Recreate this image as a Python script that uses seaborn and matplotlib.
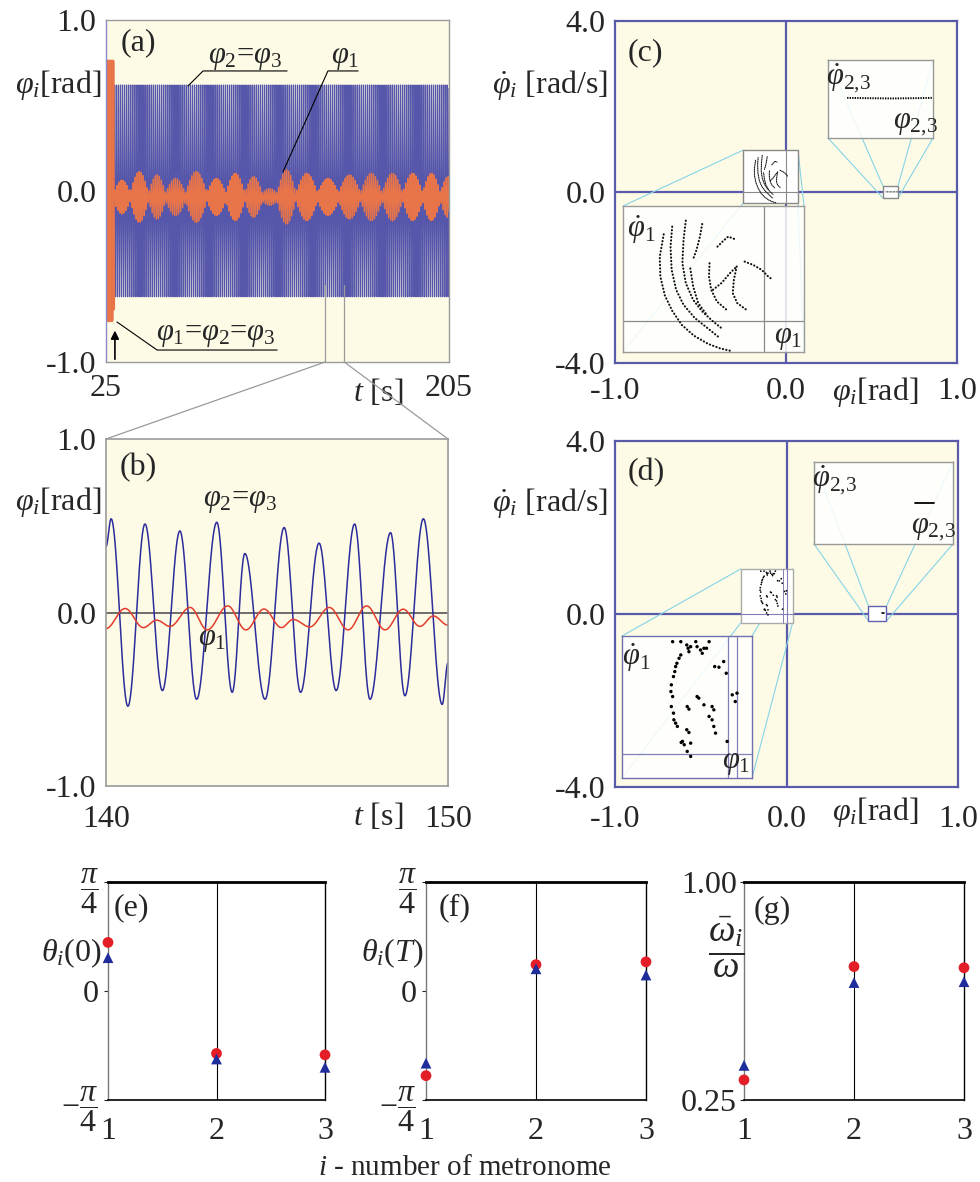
import numpy as np
import pandas as pd
import matplotlib
matplotlib.use("Agg")
import matplotlib.pyplot as plt
import seaborn as sns
from matplotlib.patches import Rectangle, ConnectionPatch

# ===================== DATA =====================
# (a) long record 25-205 s
a_t_start = 25.0
a_t_end = 205.0
a_sync_end = 29.0            # in-phase transient phi1=phi2=phi3
a_sync_amp = 0.76
a_phi23_amp = 0.62
a_phi23_period = 1.02
a_phi1_period = 1.06
a_phi1_offset = -0.035
a_lobe_t = [32.7, 42.8, 51.9, 60.7, 72.7, 83.1, 92.7, 103.2, 111.0, 118.5,
            130.7, 141.2, 153.0, 164.2, 175.6, 185.6, 196.6, 204.5]
a_lobe_amp = [0.10, 0.15, 0.13, 0.11, 0.15, 0.11, 0.14, 0.12, 0.05, 0.16,
              0.14, 0.11, 0.13, 0.14, 0.14, 0.14, 0.14, 0.12]
a_pinch_amp = 0.025
a_zoom_t = [140.0, 150.0]

# (b) 140-150 s: extrema of the curves
b_phi23_t = [140.00, 140.15, 140.64, 141.14, 141.65, 142.16, 142.65, 143.24, 143.69,
             144.06, 144.65, 145.21, 145.69, 146.23, 146.73, 147.27, 147.72, 148.32,
             148.74, 149.28, 149.83, 150.00]
b_phi23_v = [0.38, 0.54, -0.54, 0.51, -0.45, 0.47, -0.50, 0.52, -0.46, 0.34, -0.50,
             0.49, -0.46, 0.40, -0.45, 0.51, -0.50, 0.46, -0.48, 0.54, -0.53, -0.29]
b_phi1_t = [140.00, 140.56, 141.09, 141.48, 141.87, 142.46, 142.96, 143.56, 144.09,
            144.62, 145.13, 145.47, 145.96, 146.53, 147.08, 147.62, 148.16, 148.69,
            149.18, 149.57, 150.00]
b_phi1_v = [-0.092, 0.023, -0.087, -0.044, -0.080, 0.029, -0.100, 0.038, -0.100,
            0.020, -0.087, -0.040, -0.083, 0.029, -0.100, 0.038, -0.100, 0.019,
            -0.080, -0.020, -0.073]

# (c) Poincare points of metronome 1 (dotted strokes) and of 2,3
c_phi1_stroke = [1]*10 + [2]*8 + [3]*8 + [4]*4 + [5]*4 + [6]*4 + [7]*5 + [8]*4 + [9]*5 + [10]*5
c_phi1_x = [-0.178, -0.185, -0.184, -0.176, -0.163, -0.146, -0.125, -0.100, -0.078, -0.060,
            -0.163, -0.166, -0.164, -0.156, -0.143, -0.123, -0.097, -0.079,
            -0.139, -0.143, -0.145, -0.139, -0.126, -0.110, -0.091, -0.076,
            -0.110, -0.114, -0.120, -0.126,
            -0.131, -0.126, -0.117, -0.102,
            -0.083, -0.074, -0.064, -0.052,
            -0.097, -0.098, -0.094, -0.084, -0.067,
            -0.091, -0.076, -0.061, -0.049,
            -0.049, -0.054, -0.056, -0.048, -0.032,
            -0.035, -0.020, -0.005, 0.007, 0.013]
c_phi1_y = [0.74, 0.55, 0.38, 0.22, 0.09, -0.03, -0.12, -0.19, -0.23, -0.25,
            0.805, 0.635, 0.438, 0.268, 0.141, 0.028, -0.071, -0.141,
            0.856, 0.692, 0.494, 0.325, 0.183, 0.085, 0.000, -0.057,
            0.827, 0.720, 0.607, 0.530,
            0.450, 0.296, 0.155, 0.056,
            0.635, 0.678, 0.720, 0.698,
            0.494, 0.381, 0.268, 0.169, 0.099,
            0.268, 0.325, 0.409, 0.466,
            0.466, 0.353, 0.240, 0.155, 0.099,
            0.508, 0.480, 0.438, 0.380, 0.360]
c_phi23_x = [0.583, 0.600, 0.620, 0.640, 0.654]
c_phi23_y = [0.004, 0.003, 0.002, 0.003, 0.004]

# (d) Poincare points
d_phi1_x = [-0.150, -0.131, -0.117, -0.114, -0.112, -0.131, -0.135, -0.140, -0.143, -0.145,
            -0.148, -0.153, -0.154, -0.150, -0.153, -0.148, -0.147, -0.143, -0.139, -0.127,
            -0.123, -0.116, -0.108,
            -0.096, -0.093, -0.108, -0.085, -0.077, -0.065, -0.071, -0.081, -0.052, -0.042,
            -0.031,
            -0.093, -0.089, -0.116, -0.112, -0.058, -0.054, -0.077, -0.065, -0.058, -0.054,
            -0.050, -0.117, -0.112, -0.130, -0.108,
            -0.011, -0.004, 0.000, -0.025, -0.023]
d_phi1_y = [0.990, 0.990, 0.961, 0.932, 0.902, 0.873, 0.844, 0.800, 0.771, 0.727,
            0.683, 0.610, 0.551, 0.507, 0.419, 0.361, 0.302, 0.273, 0.244, 0.112,
            0.083, 0.024, -0.020,
            0.990, 0.946, 0.946, 0.917, 0.932, 0.990, 0.932, 0.888, 0.771, 0.765,
            0.815,
            0.507, 0.493, 0.419, 0.396, 0.419, 0.390, 0.434, 0.332, 0.302, 0.244,
            0.185, 0.215, 0.191, 0.103, 0.097,
            0.522, 0.463, 0.537, 0.712, 0.112]
d_phi1_line_x = -0.02
d_phi23_x = [0.554, 0.569]
d_phi23_y = [0.0125, 0.0125]

# (e)-(g)
metronome = [1, 2, 3]
e_theta0_red = [0.35, -0.45, -0.46]
e_theta0_blue = [0.24, -0.49, -0.55]
f_thetaT_red = [-0.61, 0.19, 0.21]
f_thetaT_blue = [-0.52, 0.16, 0.115]
g_omega_red = [0.319, 0.709, 0.705]
g_omega_blue = [0.369, 0.654, 0.657]

# ===================== STYLE =====================
sns.set_style("white")
plt.rcParams["font.family"] = ["Liberation Serif", "DejaVu Serif"]
plt.rcParams["mathtext.fontset"] = "custom"
plt.rcParams["mathtext.rm"] = "Liberation Serif"
plt.rcParams["mathtext.it"] = "Liberation Serif:italic"
plt.rcParams["mathtext.bf"] = "Liberation Serif:bold"
plt.rcParams["font.size"] = 23
plt.rcParams["axes.unicode_minus"] = False

BG = "#fdfbe6"
A_BLUE = "#5656aa"
A_ORANGE = "#e8744a"
B_BLUE = "#2c2c9c"
B_RED = "#e23c2c"
CD_BLUE = "#5a5aaa"
CYAN = "#86d3e6"
GREY = "#9a9a9a"
RED = "#e41e26"
NAVY = "#1f2d9c"
FS = 23

W, H, DPI = 980, 1182, 100
fig = plt.figure(figsize=(W / DPI, H / DPI), dpi=DPI)
fig.patch.set_facecolor("white")


def add_px_axes(x0, y0, x1, y1):
    return fig.add_axes([x0 / W, 1 - y1 / H, (x1 - x0) / W, (y1 - y0) / H])


def through_extrema(tk, vk, n=40):
    ts, vs = [], []
    for i in range(len(tk) - 1):
        s = np.linspace(0, 1, n, endpoint=False)
        ts.append(tk[i] + s * (tk[i + 1] - tk[i]))
        vs.append(vk[i] + (vk[i + 1] - vk[i]) * (1 - np.cos(np.pi * s)) / 2)
    ts.append([tk[-1]])
    vs.append([vk[-1]])
    return np.concatenate(ts), np.concatenate(vs)


def clear_labels(ax):
    ax.set_xlabel("")
    ax.set_ylabel("")


# ===================== (a) =====================
ax_a = add_px_axes(106, 20, 449, 362)
ax_a.set_facecolor(BG)
t = np.arange(a_t_start, a_t_end, 0.02)
centers = np.array(a_lobe_t)
amps = np.array(a_lobe_amp)
mids = (centers[:-1] + centers[1:]) / 2
pinches = np.concatenate([[a_sync_end], mids, [2 * centers[-1] - mids[-1]]])
env = np.full_like(t, a_pinch_amp)
for k in range(len(centers)):
    m = (t >= pinches[k]) & (t < pinches[k + 1])
    s = (t[m] - pinches[k]) / (pinches[k + 1] - pinches[k])
    env[m] = a_pinch_amp + (amps[k] - a_pinch_amp) * np.sin(np.pi * s)
sync = t < a_sync_end
phi23 = a_phi23_amp * np.cos(2 * np.pi * t / a_phi23_period)
phi1 = a_phi1_offset + env * np.cos(2 * np.pi * t / a_phi1_period)
phi_sync = a_sync_amp * np.cos(2 * np.pi * t / a_phi23_period)
sns.lineplot(x=t[~sync], y=phi23[~sync], ax=ax_a, color=A_BLUE, lw=0.8,
             estimator=None, sort=False, legend=False)
sns.lineplot(x=t[~sync], y=phi1[~sync], ax=ax_a, color=A_ORANGE, lw=0.9,
             estimator=None, sort=False, legend=False)
sns.lineplot(x=t[sync], y=phi_sync[sync], ax=ax_a, color=A_ORANGE, lw=2.2,
             estimator=None, sort=False, legend=False)
clear_labels(ax_a)
ax_a.set_xlim(a_t_start, a_t_end)
ax_a.set_ylim(-1, 1)
ax_a.set_xticks([25, 205])
ax_a.set_xticklabels(["25", "205"])
ax_a.set_yticks([-1, 0, 1])
ax_a.set_yticklabels(["-1.0", "0.0", "1.0"])
ax_a.set_yticks([-0.5, -0.25, 0.25, 0.5], minor=True)
ax_a.tick_params(axis="both", which="major", length=0, labelsize=FS)
ax_a.tick_params(axis="x", pad=9)
ax_a.tick_params(axis="y", pad=7)
ax_a.tick_params(axis="y", which="minor", length=3, direction="in", color="#8a8acc", left=True)
for sname, sp in ax_a.spines.items():
    sp.set_color("#8a8acc" if sname == "left" else GREY)
    sp.set_linewidth(1.0)
ax_a.text(0.093, 0.933, "(a)", transform=ax_a.transAxes, ha="center", va="center", fontsize=FS)
ax_a.text(-0.14, 0.81, r"$\varphi_i$[rad]", transform=ax_a.transAxes, ha="center", va="center", fontsize=FS)
ax_a.text(0.793, -0.088, r"$t$ [s]", transform=ax_a.transAxes, ha="center", va="center", fontsize=FS)
# annotations
ax_a.text(0.405, 0.89, r"$\varphi_2$=$\varphi_3$", transform=ax_a.transAxes, ha="center", va="center", fontsize=22)
ax_a.plot([0.239, 0.283, 0.528], [0.807, 0.851, 0.851], transform=ax_a.transAxes, color="k", lw=0.8)
ax_a.text(0.697, 0.89, r"$\varphi_1$", transform=ax_a.transAxes, ha="center", va="center", fontsize=22)
ax_a.plot([0.516, 0.647, 0.735], [0.556, 0.851, 0.851], transform=ax_a.transAxes, color="k", lw=0.8)
ax_a.text(0.321, 0.08, r"$\varphi_1$=$\varphi_2$=$\varphi_3$", transform=ax_a.transAxes, ha="center", va="center", fontsize=22)
ax_a.plot([0.032, 0.149, 0.499], [0.117, 0.035, 0.035], transform=ax_a.transAxes, color="k", lw=0.8)
ax_a.annotate("", xy=(0.026, 0.1), xytext=(0.026, 0.0), xycoords="axes fraction",
              arrowprops=dict(arrowstyle="-|>", color="k", lw=1.2, mutation_scale=12))
for tz in a_zoom_t:
    ax_a.plot([tz, tz], [-0.55, -1.0], color=GREY, lw=0.9)

# ===================== (b) =====================
ax_b = add_px_axes(106, 439, 448, 786)
ax_b.set_facecolor(BG)
ax_b.axhline(0, color="#555555", lw=1.2)
tb2, vb2 = through_extrema(b_phi23_t, b_phi23_v)
tb1, vb1 = through_extrema(b_phi1_t, b_phi1_v)
sns.lineplot(x=tb2, y=vb2, ax=ax_b, color=B_BLUE, lw=1.1, estimator=None, sort=False, legend=False)
sns.lineplot(x=tb1, y=vb1, ax=ax_b, color=B_RED, lw=1.1, estimator=None, sort=False, legend=False)
clear_labels(ax_b)
ax_b.set_xlim(140, 150)
ax_b.set_ylim(-1, 1)
ax_b.set_xticks([140, 150])
ax_b.set_xticklabels(["140", "150"])
ax_b.set_yticks([-1, 0, 1])
ax_b.set_yticklabels(["-1.0", "0.0", "1.0"])
ax_b.tick_params(length=0, labelsize=FS)
ax_b.tick_params(axis="x", pad=14)
ax_b.tick_params(axis="y", pad=7)
for sp in ax_b.spines.values():
    sp.set_color(GREY)
    sp.set_linewidth(1.2)
ax_b.text(0.094, 0.919, "(b)", transform=ax_b.transAxes, ha="center", va="center", fontsize=FS)
ax_b.text(-0.14, 0.818, r"$\varphi_i$[rad]", transform=ax_b.transAxes, ha="center", va="center", fontsize=FS)
ax_b.text(0.795, -0.089, r"$t$ [s]", transform=ax_b.transAxes, ha="center", va="center", fontsize=FS)
ax_b.text(0.392, 0.824, r"$\varphi_2$=$\varphi_3$", transform=ax_b.transAxes, ha="center", va="center", fontsize=22)
ax_b.text(0.31, 0.421, r"$\varphi_1$", transform=ax_b.transAxes, ha="center", va="center", fontsize=22)

# connectors (a) -> (b)
for tz, fx in zip(a_zoom_t, [0.0, 1.0]):
    con = ConnectionPatch(xyA=(tz, -1.0), coordsA=ax_a.transData, xyB=(fx, 1.0),
                          coordsB=ax_b.transAxes, color=GREY, lw=0.9)
    fig.add_artist(con)


# ===================== (c), (d) =====================
def style_phase(ax, tag, ylabel_fy, xlabel_fy, xpad):
    ax.set_facecolor(BG)
    ax.set_xlim(-1, 1)
    ax.set_ylim(-4, 4)
    ax.set_xticks([-1, 0, 1])
    ax.set_xticklabels(["-1.0", "0.0", "1.0"])
    ax.set_yticks([-4, 0, 4])
    ax.set_yticklabels(["-4.0", "0.0", "4.0"])
    ax.tick_params(length=0, labelsize=FS)
    ax.tick_params(axis="x", pad=xpad)
    ax.tick_params(axis="y", pad=7)
    for sp in ax.spines.values():
        sp.set_color(CD_BLUE)
        sp.set_linewidth(1.6)
    ax.axhline(0, color=CD_BLUE, lw=1.6, zorder=1)
    ax.axvline(0, color=CD_BLUE, lw=1.6, zorder=1)
    ax.text(0.09, 0.908, tag, transform=ax.transAxes, ha="center", va="center", fontsize=FS)
    ax.text(-0.19, ylabel_fy, r"$\dot{\varphi}_i$ [rad/s]", transform=ax.transAxes,
            ha="center", va="center", fontsize=FS)
    ax.text(0.76, xlabel_fy, r"$\varphi_i$[rad]", transform=ax.transAxes,
            ha="center", va="center", fontsize=FS)


def zoom_inset(ax, win, px, frame_col, box_col, zero_col=None):
    x0, x1, y0, y1 = win
    ax.add_patch(Rectangle((x0, y0), x1 - x0, y1 - y0, facecolor="white",
                           edgecolor=box_col, lw=1.0, zorder=5))
    if zero_col is not None:
        ax.plot([x0, x1], [0, 0], color=zero_col, lw=0.8, zorder=6)
        ax.plot([0, 0], [y0, y1], color=zero_col, lw=0.8, zorder=6)
    axin = add_px_axes(*px)
    axin.set_zorder(3)
    axin.set_facecolor("white")
    axin.patch.set_alpha(0.85)
    axin.set_xlim(x0, x1)
    axin.set_ylim(y0, y1)
    axin.set_xticks([])
    axin.set_yticks([])
    for sp in axin.spines.values():
        sp.set_color(frame_col)
        sp.set_linewidth(1.0)
    if zero_col is not None:
        axin.axhline(0, color=zero_col, lw=0.9)
        axin.axvline(0, color=zero_col, lw=0.9)
    for cx in (0, 1):
        for cy in (0, 1):
            con = ConnectionPatch(xyA=(x0 + cx * (x1 - x0), y0 + cy * (y1 - y0)),
                                  coordsA=ax.transData, xyB=(cx, cy),
                                  coordsB=axin.transAxes, color=CYAN, lw=0.8, zorder=4)
            ax.add_artist(con)
    return axin


def inset_labels(axin, dot_lab, lab, p_dot, p_lab):
    axin.text(p_dot[0], p_dot[1], dot_lab, transform=axin.transAxes, ha="center", va="center", fontsize=22)
    axin.text(p_lab[0], p_lab[1], lab, transform=axin.transAxes, ha="center", va="center", fontsize=22)


c_df = pd.DataFrame({"x": c_phi1_x, "y": c_phi1_y, "stroke": c_phi1_stroke})
c23_df = pd.DataFrame({"x": c_phi23_x, "y": c_phi23_y})
d_df = pd.DataFrame({"x": d_phi1_x, "y": d_phi1_y})
d23_df = pd.DataFrame({"x": d_phi23_x, "y": d_phi23_y})

ax_c = add_px_axes(615, 21, 957, 363)
style_phase(ax_c, "(c)", 0.813, -0.085, 10)
in_c1 = zoom_inset(ax_c, (-0.25, 0.07, -0.26, 0.98), (623, 206, 804, 352), "#999999", "#888888", "#8a8a8a")
in_c2 = zoom_inset(ax_c, (0.567, 0.655, -0.14, 0.14), (828, 60, 933, 138), "#999999", "#888888")
for axx, lw, dash in ((ax_c, 0.8, (0.6, 1.0)), (in_c1, 1.5, (0.15, 1.5))):
    sns.lineplot(data=c_df, x="x", y="y", units="stroke", estimator=None, sort=False,
                 color="#111111", lw=lw, linestyle=(0, dash), dash_capstyle="round",
                 ax=axx, legend=False, zorder=7)
    clear_labels(axx)
for axx, lw in ((ax_c, 0.8), (in_c2, 1.4)):
    sns.lineplot(data=c23_df, x="x", y="y", estimator=None, sort=False, color="k", lw=lw,
                 linestyle=(0, (0.7, 0.6)), ax=axx, legend=False, zorder=7)
    clear_labels(axx)
ax_c.set_xlim(-1, 1); ax_c.set_ylim(-4, 4)
in_c1.set_xticks([]); in_c1.set_yticks([])
in_c2.set_xticks([]); in_c2.set_yticks([])
inset_labels(in_c1, r"$\dot{\varphi}_1$", r"$\varphi_1$", (0.10, 0.84), (0.91, 0.10))
inset_labels(in_c2, r"$\dot{\varphi}_{2,\!3}$", r"$\varphi_{2,\!3}$", (0.20, 0.76), (0.83, 0.19))

ax_d = add_px_axes(615, 441, 958, 787)
style_phase(ax_d, "(d)", 0.821, -0.072, 13)
in_d1 = zoom_inset(ax_d, (-0.268, 0.035, -0.21, 1.04), (622, 636, 752, 778), "#7070b0", "#aaaaaa", "#8080b8")
in_d2 = zoom_inset(ax_d, (0.478, 0.583, -0.16, 0.185), (814, 462, 953, 544), "#999999", "#6060b0")
in_d1.axvline(d_phi1_line_x, color="#8080b8", lw=0.9)
ax_d.plot([d_phi1_line_x, d_phi1_line_x], [-0.21, 1.04], color="#8080b8", lw=0.7, zorder=6)
for axx, s in ((ax_d, 1.5), (in_d1, 6)):
    sns.scatterplot(data=d_df, x="x", y="y", color="k", s=s, edgecolor="none", ax=axx,
                    legend=False, zorder=7)
    clear_labels(axx)
for axx, lw in ((ax_d, 1.2), (in_d2, 1.3)):
    sns.lineplot(data=d23_df, x="x", y="y", estimator=None, sort=False, color="k", lw=lw,
                 ax=axx, legend=False, zorder=7)
    clear_labels(axx)
ax_d.set_xlim(-1, 1); ax_d.set_ylim(-4, 4)
in_d1.set_xticks([]); in_d1.set_yticks([])
in_d2.set_xticks([]); in_d2.set_yticks([])
inset_labels(in_d1, r"$\dot{\varphi}_1$", r"$\varphi_1$", (0.11, 0.85), (0.88, 0.11))
inset_labels(in_d2, r"$\dot{\varphi}_{2,\!3}$", r"$\varphi_{2,\!3}$", (0.15, 0.78), (0.86, 0.19))


# ===================== (e)-(g) =====================
def bottom_panel(px, red, blue, ylim, yticks, yticklabels, ylab, ylab_pos, tag, tag_pos, ypad,
                 ylab_fs=FS):
    ax = add_px_axes(*px)
    ax.set_facecolor("white")
    ax.axvline(2, color="k", lw=0.8)
    sns.scatterplot(x=metronome, y=red, ax=ax, color=RED, marker="o", s=60,
                    edgecolor="none", clip_on=False, zorder=5, legend=False)
    sns.scatterplot(x=metronome, y=blue, ax=ax, color=NAVY, marker="^", s=60,
                    edgecolor="none", clip_on=False, zorder=6, legend=False)
    clear_labels(ax)
    ax.set_xlim(1, 3)
    ax.set_ylim(*ylim)
    ax.set_xticks(metronome)
    ax.set_xticklabels([str(m) for m in metronome])
    ax.set_yticks(yticks)
    ax.set_yticklabels(yticklabels)
    ax.tick_params(axis="x", length=0, pad=12, labelsize=FS)
    ax.tick_params(axis="y", length=3, width=0.8, direction="out", pad=ypad, labelsize=FS, left=True)
    ax.spines["top"].set_color("k"); ax.spines["top"].set_linewidth(2.0)
    ax.spines["left"].set_color("#777777"); ax.spines["left"].set_linewidth(1.0)
    ax.spines["right"].set_color("k"); ax.spines["right"].set_linewidth(1.0)
    ax.spines["bottom"].set_color("k"); ax.spines["bottom"].set_linewidth(1.2)
    ax.text(tag_pos[0], tag_pos[1], tag, transform=ax.transAxes, ha="center", va="center", fontsize=FS)
    ax.text(ylab_pos[0], ylab_pos[1], ylab, transform=ax.transAxes, ha="center", va="center",
            fontsize=ylab_fs)
    return ax


q = np.pi / 4
pi_labels = [r"$-\dfrac{\pi}{4}$", "0", r"$\dfrac{\pi}{4}$"]
bottom_panel((108, 882, 325, 1100), e_theta0_red, e_theta0_blue, (-q, q), [-q, 0, q], pi_labels,
             r"$\theta_i$(0)", (-0.17, 0.674), "(e)", (0.106, 0.88), 4)
bottom_panel((426, 882, 646, 1100), f_thetaT_red, f_thetaT_blue, (-q, q), [-q, 0, q], pi_labels,
             r"$\theta_i$($T$)", (-0.155, 0.674), "(f)", (0.13, 0.88), 4)
bottom_panel((744, 882, 964, 1100), g_omega_red, g_omega_blue, (0.25, 1.0), [0.25, 1.0], ["0.25", "1.00"],
             r"$\dfrac{\bar{\omega}_i}{\omega}$", (-0.08, 0.70), "(g)", (0.127, 0.87), 2, ylab_fs=27)

fig.text(465 / W, 1 - 1168 / H, r"$i$ - number of metronome", ha="center", va="center", fontsize=21)

fig.savefig("out.png", dpi=DPI)
